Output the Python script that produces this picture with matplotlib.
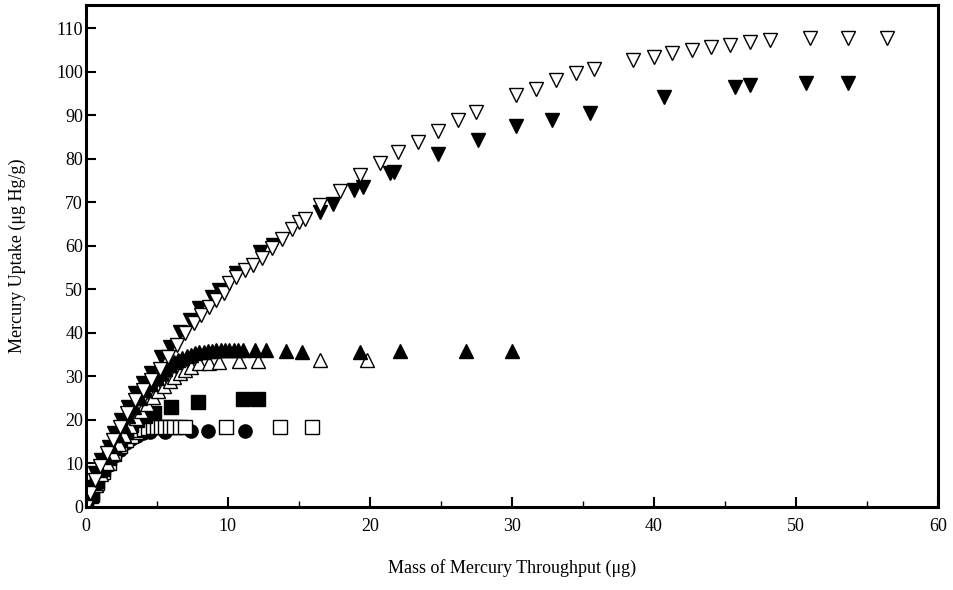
import numpy as np
import matplotlib.pyplot as plt

plt.rcParams['font.family'] = ['Liberation Serif', 'DejaVu Serif']

# open down triangles
x_dn_open = [0, 0.28, 0.63, 0.99, 1.46, 1.9, 2.4, 2.87, 3.45, 4.0, 4.6, 5.2, 5.8, 6.4,
             7.0, 7.6, 8.1, 8.7, 9.2, 9.7, 10.1, 10.6, 11.2, 11.8, 12.4, 13.1, 13.8,
             14.5, 15.0, 15.4, 16.5, 17.9, 19.3, 20.7, 22.0, 23.4, 24.8, 26.2, 27.5,
             30.3, 31.7, 33.1, 34.5, 35.8, 38.5, 40.0, 41.3, 42.7, 44.0, 45.4, 46.8,
             48.2, 51.0, 53.7, 56.4]
y_dn_open = [0, 3.1, 6.2, 9.3, 12.3, 15.4, 18.4, 21.5, 24.6, 26.9, 29.2, 31.8, 34.5, 37.2,
             39.9, 42.2, 44.1, 46.0, 47.5, 49.1, 51.4, 52.9, 54.4, 55.6, 57.3, 59.6, 61.5,
             63.8, 65.5, 66.1, 69.3, 72.6, 76.2, 78.9, 81.6, 83.9, 86.3, 88.9, 90.8,
             94.6, 96.1, 98.0, 99.6, 100.5, 102.6, 103.4, 104.3, 104.9, 105.6, 106.1, 106.7,
             107.2, 107.8, 107.8, 107.8]

# filled down triangles
x_dn_fill = [0, 0.28, 0.63, 1.1, 1.6, 2.0, 2.5, 3.0, 3.45, 4.0, 4.6, 5.3, 5.9, 6.6, 7.3,
             8.0, 8.9, 9.4, 10.6, 12.25, 13.2, 16.5, 17.4, 18.9, 19.5, 21.4, 21.7, 24.8,
             27.6, 30.3, 32.8, 35.5, 40.7, 45.7, 46.8, 50.7, 53.7]
y_dn_fill = [0, 4.7, 7.7, 10.8, 13.8, 16.9, 20.0, 23.0, 26.1, 28.4, 30.7, 34.5, 36.8, 40.3, 42.9,
             45.6, 48.3, 49.8, 53.7, 58.6, 60.2, 67.8, 69.7, 72.8, 73.5, 76.6, 77.0, 81.1,
             84.3, 87.5, 88.9, 90.6, 94.1, 96.4, 96.9, 97.4, 97.4]

# filled up triangles
x_up_fill = [0, 0.3, 0.6, 1.0, 1.4, 1.8, 2.2, 2.6, 3.0, 3.4, 3.8, 4.2, 4.6, 5.0, 5.3, 5.6,
             5.9, 6.2, 6.5, 6.8, 7.1, 7.4, 7.7, 8.0, 8.3, 8.6, 8.9, 9.2, 9.5, 9.8, 10.1,
             10.4, 10.7, 11.1, 11.9, 12.7, 14.1, 15.2, 19.3, 22.1, 26.8, 30.0]
y_up_fill = [0, 2.8, 5.5, 8.5, 11.5, 14.0, 16.5, 18.8, 21.0, 23.0, 25.0, 26.8, 28.3, 29.7, 30.8, 31.7,
             32.5, 33.2, 33.8, 34.3, 34.7, 35.0, 35.3, 35.5, 35.7, 35.8, 35.9, 36.0, 36.0, 36.1, 36.1,
             36.1, 36.1, 36.1, 36.1, 36.1, 35.8, 35.5, 35.5, 35.9, 35.9, 35.9]

# open up triangles
x_up_open = [0, 0.35, 0.7, 1.1, 1.5, 1.9, 2.3, 2.7, 3.1, 3.5, 3.9, 4.3, 4.7, 5.1, 5.5, 5.9,
             6.2, 6.6, 7.0, 7.4, 8.0, 8.7, 9.4, 10.8, 12.1, 16.5, 19.8]
y_up_open = [0, 2.5, 5.0, 7.6, 10.0, 12.3, 14.5, 16.6, 18.6, 20.4, 22.1, 23.7, 25.2, 26.6, 27.9, 29.0,
             29.9, 30.7, 31.5, 32.2, 33.0, 33.1, 33.4, 33.5, 33.5, 33.8, 33.8]

# filled squares
x_sq_fill = [0, 0.4, 0.8, 1.2, 1.6, 2.0, 2.4, 2.8, 3.2, 3.6, 4.2, 4.8, 6.0, 7.9, 11.1, 12.1]
y_sq_fill = [0, 3.0, 6.0, 8.8, 11.3, 13.6, 15.6, 17.3, 18.8, 20.0, 20.8, 21.5, 23.0, 24.2, 24.8, 24.8]

# open squares
x_sq_open = [0, 0.4, 0.8, 1.2, 1.6, 2.0, 2.4, 2.8, 3.2, 3.5, 3.8, 4.1, 4.4, 4.7, 5.0, 5.3,
             5.6, 5.9, 6.2, 6.6, 7.0, 9.9, 13.7, 15.9]
y_sq_open = [0, 2.8, 5.5, 8.0, 10.2, 12.2, 13.9, 15.3, 16.4, 17.2, 17.7, 18.0, 18.2, 18.3, 18.4, 18.4,
             18.4, 18.4, 18.4, 18.4, 18.4, 18.4, 18.4, 18.4]

# filled circles
x_ci_fill = [0, 0.4, 0.8, 1.2, 1.6, 2.0, 2.4, 2.8, 3.2, 3.6, 4.0, 4.5, 5.6, 7.4, 8.6, 11.2]
y_ci_fill = [0, 2.6, 5.2, 7.6, 9.7, 11.6, 13.2, 14.6, 15.6, 16.4, 16.9, 17.2, 17.3, 17.5, 17.5, 17.4]

fig = plt.figure(figsize=(9.54, 5.9), dpi=100)
ax = fig.add_axes([0.090, 0.1407, 0.893, 0.8508])

ax.plot(x_ci_fill, y_ci_fill, 'o', ms=9.5, mfc='black', mec='black', ls='none')
ax.plot(x_sq_open, y_sq_open, 's', ms=9.5, mfc='white', mec='black', mew=1, ls='none')
ax.plot(x_sq_fill, y_sq_fill, 's', ms=9.5, mfc='black', mec='black', ls='none')
ax.plot(x_up_open, y_up_open, '^', ms=10.5, mfc='white', mec='black', mew=1, ls='none')
ax.plot(x_up_fill, y_up_fill, '^', ms=10.5, mfc='black', mec='black', ls='none')
ax.plot(x_dn_fill, y_dn_fill, 'v', ms=10.5, mfc='black', mec='black', ls='none')
ax.plot(x_dn_open, y_dn_open, 'v', ms=10.5, mfc='white', mec='black', mew=1, ls='none')

ax.set_xlim(0, 60)
ax.set_ylim(0, 115.3)
ax.set_xticks(np.arange(0, 61, 10))
ax.set_xticks(np.arange(5, 60, 10), minor=True)
ax.set_yticks(np.arange(0, 111, 10))
ax.tick_params(axis='both', which='major', direction='in', length=7, width=1.5, labelsize=13)
ax.tick_params(axis='x', which='minor', direction='in', length=4, width=1)
ax.tick_params(axis='x', pad=8)
ax.tick_params(axis='y', pad=2)
for s in ax.spines.values():
    s.set_linewidth(2.2)

ax.set_xlabel('Mass of Mercury Throughput (\u03bcg)', fontsize=13, labelpad=17)
ax.set_ylabel('Mercury Uptake (\u03bcg Hg/g)', fontsize=13, labelpad=22)

fig.savefig('out.png', dpi=100)
